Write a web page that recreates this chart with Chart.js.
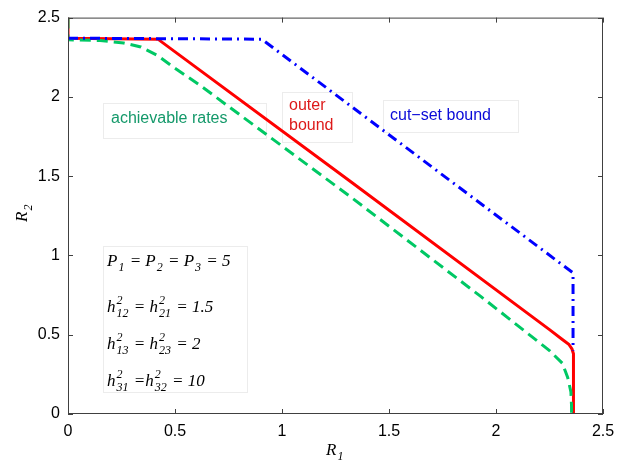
<!DOCTYPE html>
<html>
<head>
    <meta charset="UTF-8">
    <title>R1-R2 rate region</title>
    <script src="https://cdn.jsdelivr.net/npm/chart.js"></script>
    <style>
        html, body { margin: 0; padding: 0; background: #fff; }
        #wrap { width: 630px; height: 466px; }
    </style>
</head>
<body>
    <div id="wrap"><canvas id="rateChart"></canvas></div>
    <script>
        // curve data (R1, R2)
        const outerR1 = [0, 0, 0.42, 1.32, 2.25, 2.31, 2.34, 2.355, 2.362, 2.362];
        const outerR2 = [2.5, 2.37, 2.364, 1.466, 0.532, 0.47, 0.44, 0.41, 0.38, 0];

        const achR1 = [0, 0, 0.15, 0.26, 0.34, 0.42, 0.49, 0.62, 1.32, 1.93, 2.25, 2.31, 2.335, 2.35, 2.353, 2.353];
        const achR2 = [2.5, 2.36, 2.355, 2.34, 2.315, 2.26, 2.19, 2.07, 1.37, 0.74, 0.40, 0.32, 0.23, 0.14, 0.05, 0];

        const cutR1 = [0, 0.905, 2.36, 2.36];
        const cutR2 = [2.37, 2.364, 0.89, 0.40];

        const tickVals = [0, 0.5, 1, 1.5, 2, 2.5];

        const pts = (xs, ys) => xs.map((x, i) => ({ x: x, y: ys[i] }));

        // draws runs of italic math text: [text, kind] with kind '', 'sub', 'supsub'
        function mathText(ctx, x, y, runs, size) {
            const big = 'italic ' + size + 'px "Liberation Serif", "Times New Roman", serif';
            const small = 'italic ' + Math.round(size * 0.72) + 'px "Liberation Serif", "Times New Roman", serif';
            ctx.textBaseline = 'alphabetic';
            ctx.textAlign = 'left';
            runs.forEach(r => {
                const t = r[0], k = r[1] || '';
                if (k === '') {
                    ctx.font = big;
                    ctx.fillText(t, x, y);
                    x += ctx.measureText(t).width;
                } else if (k === 'sub') {
                    ctx.font = small;
                    ctx.fillText(t, x + 1, y + size * 0.32);
                    x += ctx.measureText(t).width + 2;
                } else if (k === 'supsub') {
                    ctx.font = small;
                    const parts = t.split('|');
                    ctx.fillText(parts[0], x + 1, y - size * 0.45);
                    ctx.fillText(parts[1], x + 1, y + size * 0.32);
                    x += Math.max(ctx.measureText(parts[0]).width, ctx.measureText(parts[1]).width) + 2;
                }
            });
        }

        const decorations = {
            id: 'decorations',
            beforeDatasetsDraw(chart) {
                const ctx = chart.ctx;
                ctx.save();
                // label boxes under the curves
                ctx.strokeStyle = '#ececec';
                ctx.fillStyle = '#ffffff';
                ctx.lineWidth = 1;
                [[103, 103, 163, 35], [282, 92, 70, 50], [383, 100, 135, 32], [103, 246, 144, 146]].forEach(b => {
                    ctx.fillRect(b[0], b[1], b[2], b[3]);
                    ctx.strokeRect(b[0] + 0.5, b[1] + 0.5, b[2], b[3]);
                });

                ctx.font = '16px "Liberation Sans", Arial, sans-serif';
                ctx.textBaseline = 'middle';
                ctx.textAlign = 'left';
                ctx.fillStyle = '#14996a';
                ctx.fillText('achievable rates', 111, 119);
                ctx.fillStyle = '#dd1a1a';
                ctx.fillText('outer', 289, 106);
                ctx.fillText('bound', 289, 126);
                ctx.fillStyle = '#0a0ad8';
                ctx.fillText('cut\u2212set bound', 390, 116);

                // parameter box
                ctx.fillStyle = '#000';
                mathText(ctx, 107, 266, [['P'], ['1', 'sub'], [' = P'], ['2', 'sub'], [' = P'], ['3', 'sub'], [' = 5']], 17);
                mathText(ctx, 107, 312, [['h'], ['2|12', 'supsub'], [' = h'], ['2|21', 'supsub'], [' = 1.5']], 17);
                mathText(ctx, 107, 349, [['h'], ['2|13', 'supsub'], [' = h'], ['2|23', 'supsub'], [' = 2']], 17);
                mathText(ctx, 107, 386, [['h'], ['2|31', 'supsub'], [' =h'], ['2|32', 'supsub'], [' = 10']], 17);
                ctx.restore();
            },
            afterDraw(chart) {
                const ctx = chart.ctx;
                const a = chart.chartArea;
                const xs = chart.scales.x, ys = chart.scales.y;
                ctx.save();

                // box + inward ticks
                ctx.strokeStyle = '#404040';
                ctx.lineWidth = 1;
                ctx.strokeRect(a.left + 0.5, a.top + 0.5, a.right - a.left - 1, a.bottom - a.top - 1);
                ctx.beginPath();
                tickVals.forEach(v => {
                    const px = Math.round(xs.getPixelForValue(v)) + 0.5;
                    ctx.moveTo(px, a.bottom); ctx.lineTo(px, a.bottom - 5);
                    ctx.moveTo(px, a.top); ctx.lineTo(px, a.top + 5);
                    const py = Math.round(ys.getPixelForValue(v)) + 0.5;
                    ctx.moveTo(a.left, py); ctx.lineTo(a.left + 5, py);
                    ctx.moveTo(a.right, py); ctx.lineTo(a.right - 5, py);
                });
                ctx.stroke();

                // axis titles
                ctx.fillStyle = '#000';
                mathText(ctx, 326, 455, [['R'], ['1', 'sub']], 17);
                ctx.translate(27, 222);
                ctx.rotate(-Math.PI / 2);
                mathText(ctx, 0, 0, [['R'], ['2', 'sub']], 17);
                ctx.restore();
            }
        };

        const tickFont = { family: '"Liberation Sans", Arial, sans-serif', size: 16 };

        new Chart(document.getElementById('rateChart'), {
            type: 'scatter',
            data: {
                datasets: [{
                    label: 'cut-set bound',
                    data: pts(cutR1, cutR2),
                    showLine: true,
                    borderColor: '#0000ff',
                    borderWidth: 3,
                    borderDash: [10, 5, 2, 5],
                    pointRadius: 0,
                    fill: false
                }, {
                    label: 'achievable rates',
                    data: pts(achR1, achR2),
                    showLine: true,
                    borderColor: '#00c864',
                    borderWidth: 3,
                    borderDash: [11, 6],
                    pointRadius: 0,
                    fill: false
                }, {
                    label: 'outer bound',
                    data: pts(outerR1, outerR2),
                    showLine: true,
                    borderColor: '#ff0000',
                    borderWidth: 3,
                    pointRadius: 0,
                    fill: false
                }]
            },
            options: {
                responsive: true,
                maintainAspectRatio: false,
                animation: false,
                layout: { padding: { left: 0, top: 16, right: 27, bottom: 0 } },
                plugins: {
                    legend: { display: false },
                    tooltip: { enabled: false }
                },
                scales: {
                    x: {
                        type: 'linear',
                        min: 0,
                        max: 2.5,
                        grid: { display: false, drawTicks: false },
                        border: { display: false },
                        ticks: {
                            stepSize: 0.5,
                            padding: 8,
                            color: '#000',
                            maxRotation: 0,
                            font: tickFont,
                            callback: v => String(v)
                        },
                        afterFit: s => { s.height = 52; }
                    },
                    y: {
                        type: 'linear',
                        min: 0,
                        max: 2.5,
                        grid: { display: false, drawTicks: false },
                        border: { display: false },
                        ticks: {
                            stepSize: 0.5,
                            padding: 8,
                            color: '#000',
                            font: tickFont,
                            callback: v => String(v)
                        },
                        afterFit: s => { s.width = 68; }
                    }
                }
            },
            plugins: [decorations]
        });
    </script>
</body>
</html>
